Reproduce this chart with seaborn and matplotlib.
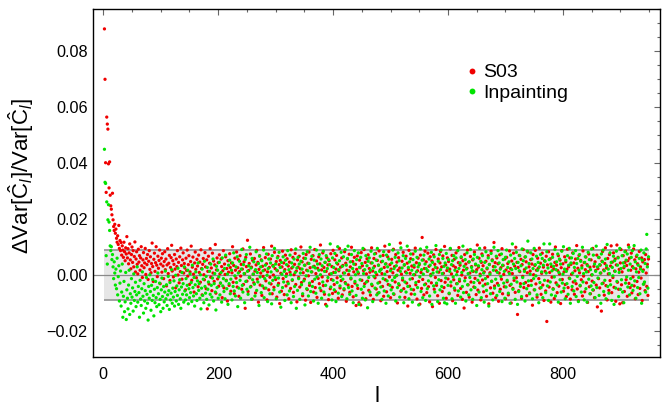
import numpy as np
import pandas as pd
import matplotlib.pyplot as plt
import seaborn as sns
from matplotlib.ticker import MultipleLocator, FuncFormatter

# valeurs, en unites de 1e-4, pour l = 2, 3, 4, ...
l_start = 2
s03 = [
    880, 700, 402, 296, 565, 540, 522, 398, 312, 405, 286, 248, 236, 216, 293, 198, 174, 160, 182, 150,
    165, 132, 118, 141, 110, 178, 96, 124, 88, 117, 72, 105, 90, 64, 118, 84, 52, 98, 76, 138,
    62, 95, 41, 80, 112, 55, 23, 74, 101, 46, 88, 30, 67, 119, 12, 58, 84, 39, 5, 93,
    47, 70, 18, 62, 102, 34, -8, 55, 81, 27, 44, 96, 3, 60, 38, 74, -15, 50, 88, 21,
    66, 9, 42, 115, 31, -22, 57, 79, 14, 45, 102, 36, -5, 68, 25, 53, 90, -30, 40, 61,
    11, 77, 33, -12, 49, 84, 20, 58, -38, 37, 95, 6, 43, 71, -19, 28, 63, 107, 15, 52,
    -6, 39, 74, 22, -45, 58, 31, 88, 1, 46, -27, 66, 13, 97, 35, -14, 55, 80, 8, 42,
    26, -52, 61, 17, 90, -3, 38, 70, -33, 12, 49, 104, -18, 29, 65, 4, -60, 44, 83, 21,
    -9, 57, 33, -41, 72, 10, 47, -25, 91, 24, -70, 39, 60, 2, -16, 81, 30, -48, 55, -120,
    14, 68, -31, 43, 95, -7, 26, -55, 79, 8, 51, -22, 37, 110, -64, 19, 62, -13, 45, -39,
    73, 5, -28, 58, 31, -80, 16, 88, -45, 40, 3, 66, -18, 24, -92, 52, 11, -36, 77, 28,
    -57, 44, 9, 102, -25, 35, -66, 61, 18, -10, 83, -42, 27, 56, -75, 13, 70, -3, 39, -50,
    22, 94, -33, 48, 6, -118, 64, 31, -21, 125, -58, 17, 42, -9, 76, -40, 29, -85, 53, 4,
    -27, 60, 15, -63, 37, 89, -14, 46, -96, 21, 70, -35, 8, 55, -72, 32, -4, 99, -46, 19,
    63, -20, 41, -88, 12, 75, -52, 28, -7, 58, -31, 104, -66, 35, 1, -43, 82, 24, -15, 49,
    -78, 16, 67, -29, 38, -101, 53, 7, -57, 30, 86, -12, 44, -69, 20, 72, -38, 5, 59, -24,
    33, -84, 47, 11, -47, 91, 26, -18, 64, -61, 2, 39, 78, -33, 15, -95, 55, 29, -8, 68,
    -42, 23, 101, -26, 48, -73, 9, 61, -14, 36, -89, 74, 18, -51, 43, -2, 83, -36, 27, -97,
    57, 12, -22, 70, -60, 32, 92, -44, 6, 51, -79, 25, -11, 66, -30, 41, 108, -55, 19, -6,
    80, -37, 28, -68, 46, -104, 14, 63, -20, 37, -87, 52, 4, -48, 77, -15, 31, -65, 89, 10,
    -33, 55, -58, 22, 71, -9, 40, -82, 16, 96, -45, 29, -19, 62, -70, 35, 8, -52, 84, -26,
    43, -93, 18, 58, -35, 3, 75, -61, 30, -13, 100, -40, 49, -77, 12, 64, -28, 39, -108, 21,
    69, -47, 7, -98, 54, 27, -106, 81, -18, 34, -63, 17, 92, -30, 46, -84, 5, 59, -21, 73,
    -54, 24, 11, -71, 44, 98, -37, 15, -86, 60, 32, -9, 78, -49, 2, 53, -64, 36, 87, -25,
    19, -91, 48, 6, -40, 71, -75, 28, 104, -16, 41, -59, 13, 66, -33, 85, -6, 38, -80, 22,
    57, -43, 9, 93, -68, 31, -24, 74, -2, 47, -99, 18, 63, -35, 26, 115, -57, 4, 50, -17,
    82, -48, 36, -79, 12, 68, -28, 43, -110, 21, 89, -39, 7, 59, -67, 33, -12, 76, -52, 29,
    2, 97, -34, 45, -85, 16, 61, -22, 38, -103, 72, 10, -47, 135, -15, 55, -70, 24, 86, -31,
    48, -62, 14, 79, -41, 32, -95, 66, 3, -27, 51, -112, 20, 73, -50, 39, -8, 92, -36, 26,
    -73, 58, 11, -100, 44, 85, -19, 30, -58, 69, 7, -44, 103, -25, 37, -82, 17, 62, -13, 49,
    -66, 22, 94, -38, 5, 71, -91, 34, -16, 57, -53, 28, 80, -30, 13, -72, 45, 99, -21, 36,
    -47, 63, 1, -86, 52, 18, -117, 74, -9, 40, -61, 25, 90, -34, 47, -78, 8, 67, -24, 31,
    -96, 55, 14, -42, 83, -11, 37, -69, 20, 108, -53, 29, 61, -27, 4, -88, 46, 76, -17, 34,
    -59, 12, 98, -32, 50, -75, 23, -5, 70, -102, 39, 9, -45, 86, -21, 55, -64, 31, 117, -38,
    45, -80, 16, 62, -29, 41, -93, 8, 73, -50, 27, -14, 95, -66, 35, 3, -41, 58, -84, 19,
    64, -23, 42, -70, 11, 87, -36, 24, -99, 51, 6, -47, 79, -18, 33, -61, 100, -9, 46, -140,
    28, -55, 71, 13, -30, 57, -82, 38, -4, 92, -44, 20, 65, -26, 48, -73, 9, 83, -37, 30,
    -63, 15, 56, -19, 40, -107, 74, 2, -52, 35, 89, -31, 18, -78, 61, 25, -12, 97, -46, 43,
    -68, 7, 79, -35, 29, -90, 52, 14, -56, 68, -165, 37, -20, 84, -42, 10, 59, -96, 31, -7,
    75, -48, 22, -83, 46, 101, -27, 36, -62, 17, 70, -39, 5, 54, -101, 27, 88, -15, 41, -57,
    12, 66, -33, 48, -76, 21, 93, -44, 30, -10, 62, -85, 39, 4, -52, 80, -24, 44, -68, 16,
    58, -30, 106, -49, 25, -91, 71, 9, -38, 53, -16, 34, -74, 87, -3, 45, -59, 20, 65, -27,
    38, -97, 13, 76, -41, 29, -66, 55, 1, -21, 96, -53, 32, -80, 48, 17, -35, 72, -113, 24,
    -12, 63, -45, 36, 8, -128, 50, 85, -28, 19, -71, 42, 98, -37, 26, -88, 60, 5, -54, 74,
    -19, 33, 105, -62, 47, -8, 80, -43, 15, 58, -93, 37, 108, -25, 64, -50, 21, -102, 44, 92,
    -34, 12, -98, 70, 27, -58, 46, 86, -16, 35, -75, 52, 108, -29, 61, -44, 18, 79, -63, 31,
    -6, 94, -38, 55, -84, 23, 67, -22, 41, -69, 11, 85, -47, 30, -10, 62, -90, 48, 19, -31,
    56, -55, 74, 8, -40, 39, -72, 58,
]
inpainting = [
    450, 332, 328, 70, 262, 40, 198, 252, 190, 160, 105, 88, 102, 56, 74, 30, -12, 48, 8, -35,
    22, -48, 61, -70, -5, 34, -92, -28, 15, -110, -60, 40, -150, -75, -22, -130, -95, 10, -158, -52,
    -82, -120, -35, 18, -140, -66, -100, -12, -78, -45, -128, 5, -90, -58, -25, -112, -70, 30, -96, -40,
    -62, -150, -18, -85, -108, -48, 12, -75, -135, -30, -92, -55, -118, -8, -68, -100, -160, -40, -82, 2,
    -58, -125, -36, -90, -15, -72, -145, -50, -98, -22, -80, -112, -44, 8, -66, -105, -28, -86, -130, -52,
    -10, -76, -118, -40, -95, -60, 15, -84, -34, -108, -70, -4, -55, -122, -26, -88, -64, 20, -100, -46,
    -78, -20, -110, -58, 0, -92, -38, -72, 25, -104, -52, -16, -84, -118, -42, 10, -68, -30, -96, 30,
    -56, -88, -12, -70, -36, 18, -102, -48, -80, 5, -62, -26, -94, 36, -44, -74, -8, -110, -34, 12,
    -66, -90, -20, 44, -54, -30, -82, 2, -120, -46, 22, -72, -14, -98, 50, -40, -64, -4, -86, 28,
    -50, -24, -106, 14, -68, 40, -36, -78, -10, 58, -92, -30, 6, -60, -124, 32, -44, 18, -82, -6,
    46, -70, -28, 10, -96, 62, -38, -12, -58, 24, -84, 72, -20, -48, 4, -104, 36, -30, 54, -66,
    -14, 18, -88, 44, -40, 80, -56, -2, -74, 30, -26, 66, -112, 8, -46, 50, -18, -82, 22, 92,
    -36, -60, 38, 6, -98, 56, -22, 74, -50, 14, -68, 34, -8, 100, -42, 26, -86, 60, -16, 4,
    48, -32, -74, 20, 84, -54, 10, -24, 42, -108, 68, -6, 30, -62, 52, -38, 16, 90, -80, -12,
    36, -46, 76, 0, -94, 24, 58, -28, -66, 44, 12, -102, 70, -18, 32, -52, 96, -8, 40, -84,
    18, 62, -36, -10, 82, -60, 28, -114, 46, 4, -44, 66, -24, 14, -90, 54, -4, 38, -70, 88,
    -30, 20, -56, 72, 2, -98, 44, -16, 30, -76, 58, -40, 10, 94, -118, 26, -54, 64, -12, 40,
    -86, 8, 50, -34, 22, -66, 78, -20, 36, -106, 60, -2, -48, 84, 16, -74, 42, -28, 100, -58,
    12, 68, -40, 30, -92, 54, -14, 26, -64, 90, -6, 40, -100, 18, 74, -46, 2, 58, -82, 34,
    -24, 86, -60, 14, 46, -36, 70, -110, 24, -8, 56, -70, 38, 112, -42, 6, -88, 62, -18, 28,
    -52, 78, 10, -94, 44, -26, 102, -64, 20, 52, -38, -4, 82, -76, 32, -14, 66, -48, 8, 92,
    -30, 36, -84, 60, 104, -44, 16, -68, 48, -10, 74, -56, 24, -98, 40, 88, -22, 2, -72, 56,
    -36, 12, 80, -104, 28, -16, 64, -50, 42, -82, 96, 6, -40, 20, -88, 70, -24, 34, -116, 50,
    -8, 62, -60, 18, 86, -32, 44, -94, 26, -4, 76, -46, 10, 54, -70, 96, -28, 36, -62, 14,
    68, -42, 22, -86, 50, -12, 84, -56, 4, 40, -100, 72, -20, 30, -74, 58, 110, -36, 16, -52,
    44, -18, 90, -66, 24, -8, 64, -92, 34, 0, -44, 80, -30, 52, -78, 14, 98, -54, 26, -10,
    70, -98, 38, -24, 60, -60, 8, 104, -40, 28, -84, 48, -14, 76, -50, 18, -96, 56, 2, 36,
    -68, 86, -26, 12, 64, -44, 30, -106, 42, -6, 94, -58, 20, 54, -80, 4, 72, -34, 40, -90,
    24, 100, -48, 16, -20, 58, -74, 36, -2, 82, -104, 46, 8, -38, 66, -60, 28, 106, -28, 12,
    -94, 50, -16, 74, -52, 20, 90, -40, 6, 60, -82, 32, -98, 44, -10, 78, -102, 26, -36, 56,
    -64, 14, 96, -24, 38, -84, 52, -6, 70, -46, 18, -100, 62, 2, -30, 88, -56, 24, -14, 44,
    -78, 66, 10, -40, 104, -62, 32, -20, 56, -92, 22, 80, -34, 6, -70, 48, -8, 92, -52, 28,
    16, -86, 58, -26, 74, -44, 40, 12, -108, 64, -18, 34, -60, 96, -2, 50, -80, 20, 70, -38,
    8, -96, 46, -12, 84, -54, 26, -30, 62, -110, 38, 4, -66, 78, -22, 52, -88, 18, 100, -46,
    30, -14, 68, -72, 10, 88, -36, 44, -58, 22, -4, 76, -94, 36, 56, -28, 14, -82, 64, -42,
    90, -18, 28, -64, 48, 6, -100, 72, -32, 20, 112, -50, 40, -10, 60, -86, 24, 82, -24, -104,
    46, -58, 16, 70, -40, 34, -76, 94, -8, 52, -30, 14, -92, 66, 26, -48, 86, 122, -20, 42,
    -66, 4, 80, -36, 58, -84, 24, -12, 96, -52, 38, -2, 68, -70, 18, 46, -98, 30, -26, 74,
    -44, 12, 60, -80, 36, 112, -18, 50, -62, 8, 84, -38, 26, -90, 56, 112, -24, 40, -70, 16,
    64, -50, 32, -6, 92, -74, 20, 48, -34, 76, -96, 10, 58, -16, 40, -60, 86, -28, 4, 102,
    -46, 22, -84, 54, 14, -30, 70, -68, 36, 96, -12, -100, 44, 62, -40, 8, 78, -56, 28, -20,
    88, -76, 42, -4, 60, -94, 18, 74, -36, 50, -60, 26, 100, -24, 6, -88, 46, 66, -48, 12,
    -96, 34, 82, -14, 56, -66, 20, -38, 94, 2, -52, 72, -26, 40, -80, 14, 104, -44, 30, -10,
    64, -72, 38, 8, -100, 76, -30, 48, 90, -58, 16, -18, 58, -84, 34, 110, -40, 22, -64, 6,
    80, -34, 46, -90, 28, -2, 68, -104, 52, 14, -46, 86, -22, 36, 62, -76, 10, 96, -50, 24,
    -16, 70, -60, 44, -98, 32, 84, -28, 54, -6, 76, -42, 18, 100, -70, 40, -12, 64, -36, 88,
    -54, 26, 106, -20, 48, -82, 12, 72, -44, 36, -8, 60, -66, 22, 90, -100, 54, 14, -32, 80,
    -24, 42, -60, 94, 146, 30, -46, 66,
]
series_names = ["S03", "Inpainting"]
colors = ["#f00000", "#00e400"]
band_half = 0.009
band_l = [2, 949]

df = pd.concat([
    pd.DataFrame({"l": np.arange(l_start, l_start + len(s03)),
                  "val": np.array(s03) / 1e4, "serie": series_names[0]}),
    pd.DataFrame({"l": np.arange(l_start, l_start + len(inpainting)),
                  "val": np.array(inpainting) / 1e4, "serie": series_names[1]}),
], ignore_index=True)

sns.set_style("white")
plt.rcParams["font.family"] = ["Liberation Sans", "DejaVu Sans"]
plt.rcParams["mathtext.fontset"] = "custom"
plt.rcParams["mathtext.rm"] = "Liberation Sans"
plt.rcParams["mathtext.it"] = "Liberation Sans:italic"
plt.rcParams["text.color"] = "black"
plt.rcParams["axes.labelcolor"] = "black"
plt.rcParams["xtick.color"] = "black"
plt.rcParams["ytick.color"] = "black"

fig, ax = plt.subplots(figsize=(6.67, 4.07), dpi=100)
fig.subplots_adjust(left=93.3 / 667, right=660 / 667, bottom=1 - 357.3 / 407, top=1 - 9.3 / 407)

# bande grise +/- band_half et ligne zero
ax.fill_between(band_l, -band_half, band_half, color="#e6e6e6", lw=0, zorder=0)
ax.hlines([-band_half, band_half], band_l[0], band_l[1], color="#9a9a9a", lw=1.3, zorder=1)
ax.axhline(0, color="#8a8a8a", lw=0.9, zorder=1)

sns.scatterplot(data=df, x="l", y="val", hue="serie", hue_order=series_names,
                palette=dict(zip(series_names, colors)), s=5.5, linewidth=0,
                edgecolor="none", ax=ax, zorder=2)

ax.set_xlim(-17.4, 969)
ax.set_ylim(-0.0293, 0.0950)
ax.set_xticks([0, 200, 400, 600, 800])
ax.xaxis.set_minor_locator(MultipleLocator(50))
ax.set_yticks([-0.02, 0.0, 0.02, 0.04, 0.06, 0.08])
ax.yaxis.set_minor_locator(MultipleLocator(0.005))
ax.yaxis.set_major_formatter(FuncFormatter(lambda v, p: f"{round(v, 2):.2f}".replace("-", "\u2212")))
ax.tick_params(which="both", direction="in", top=True, right=True, color="#666666",
               labelsize=11.7, width=0.8, labelcolor="black")
ax.tick_params(which="major", length=4, pad=4)
ax.tick_params(which="minor", length=2.5)
ax.tick_params(axis="x", which="major", pad=7)
for sp in ax.spines.values():
    sp.set_color("black")
    sp.set_linewidth(1.0)

ax.set_xlabel("l", fontsize=16, labelpad=3)
ax.set_ylabel(r"$\Delta\mathrm{Var}[\hat{\mathrm{C}}_{l}]/\mathrm{Var}[\hat{\mathrm{C}}_{l}]$",
              fontsize=16)
ax.yaxis.set_label_coords(-0.101, 0.52)

sns.move_legend(ax, "upper left", bbox_to_anchor=(0.644, 0.866), frameon=False, title=None,
                fontsize=14, handlelength=0.6, handletextpad=0.3, labelspacing=0.15,
                markerscale=1.8, borderaxespad=0)

plt.savefig("out.png", dpi=100)
plt.close()
